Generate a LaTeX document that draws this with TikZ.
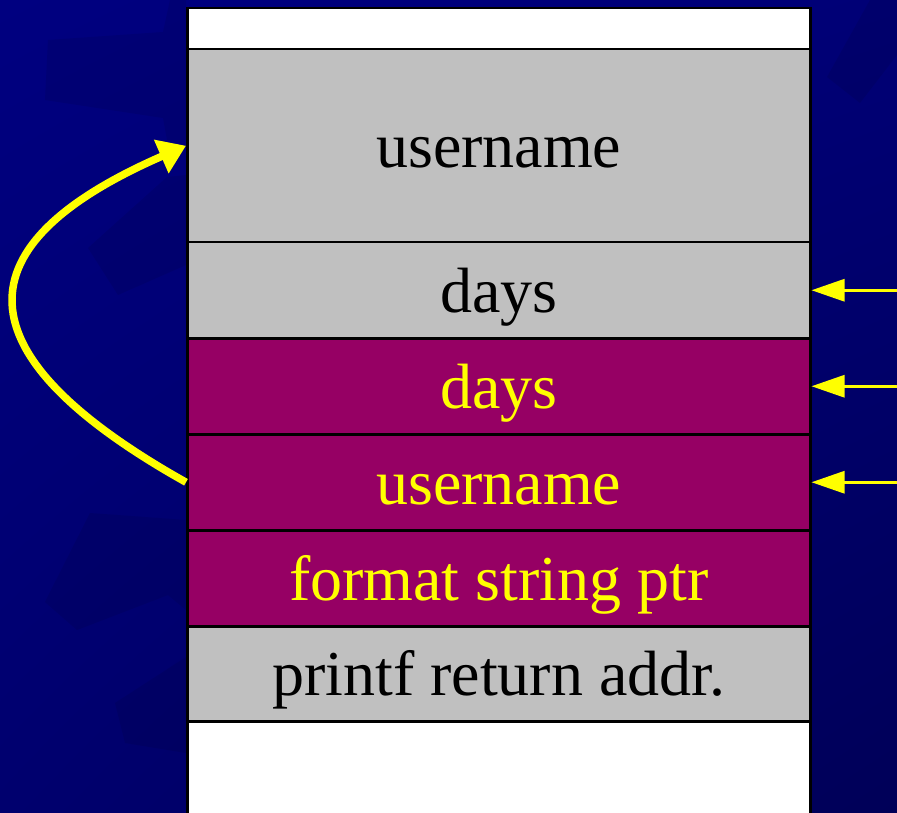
\documentclass[tikz,border=0pt]{standalone}
\usepackage{fontspec}
\setmainfont{Liberation Serif}
\usetikzlibrary{arrows.meta,shadings}
\definecolor{bgnavy}{RGB}{0,0,128}
\definecolor{bgnavyR}{RGB}{0,0,118}
\definecolor{bgnavyBL}{RGB}{0,0,110}
\definecolor{bgnavyBR}{RGB}{0,0,88}
\definecolor{cellgray}{RGB}{192,192,192}
\definecolor{cellpurple}{RGB}{150,0,100}
\definecolor{hiyellow}{RGB}{255,255,0}
\tikzset{
  cell/.style={draw=black, line width=2.5pt, rectangle, anchor=north west,
    minimum width=623pt, inner sep=0pt, text height=44pt, text depth=0pt,
    font=\fontsize{64}{70}\selectfont},
  graycell/.style={cell, fill=cellgray, text=black},
  purplecell/.style={cell, fill=cellpurple, text=hiyellow},
  whitecell/.style={cell, fill=white},
  ptrarrow/.style={draw=hiyellow, line width=3pt, -{Triangle[length=33pt,width=22pt]}},
  curvearrow/.style={draw=hiyellow, line width=7.5pt, -{Triangle[length=27pt,width=35pt]}},
  bgshape/.style={fill=black, fill opacity=0.08, draw=none}
}
\begin{document}
\begin{tikzpicture}[x=1pt,y=-1pt]
\clip (0,0) rectangle (897,813);
\shade[upper left=bgnavy, upper right=bgnavyR, lower left=bgnavyBL, lower right=bgnavyBR] (0,0) rectangle (897,813);
% faint background shapes
\fill[bgshape] (48,40) -- (163,32) -- (170,0) -- (186,0) -- (186,140) -- (167,140) -- (163,118) -- (45,100) -- cycle;
\fill[bgshape] (88,248) -- (118,295) -- (186,265) -- (186,175) -- (167,177) -- cycle;
\fill[bgshape] (827,77) -- (860,103) -- (897,55) -- (897,0) -- (870,0) -- cycle;
\fill[bgshape] (45,602) -- (77,630) -- (168,595) -- (186,610) -- (186,520) -- (90,513) -- cycle;
\fill[bgshape] (115,703) -- (125,743) -- (186,753) -- (186,657) -- cycle;
% stack cells
\node[whitecell, minimum height=41pt] (c0) at (186,7) {};
\node[graycell, minimum height=193pt] (c1) at (186,48) {username};
\node[graycell, minimum height=96pt] (c2) at (186,241) {days};
\node[purplecell, minimum height=96pt] (c3) at (186,337) {days};
\node[purplecell, minimum height=96pt] (c4) at (186,433) {username};
\node[purplecell, minimum height=96pt] (c5) at (186,529) {format string ptr};
\node[graycell, minimum height=95pt] (c6) at (186,625) {printf return addr.};
\node[whitecell, minimum height=110pt] (c7) at (186,720) {};
% pointer arrows from the right
\coordinate (p2) at ([xshift=90pt]c2.east);
\coordinate (p3) at ([xshift=90pt]c3.east);
\coordinate (p4) at ([xshift=90pt]c4.east);
\draw[ptrarrow] (p2) -- (c2.east);
\draw[ptrarrow] (p3) -- (c3.east);
\draw[ptrarrow] (p4) -- (c4.east);
% curved arrow
\draw[curvearrow] (c4.west) .. controls (-30,361) and (-53,250) .. (c1.west);
\end{tikzpicture}
\end{document}
